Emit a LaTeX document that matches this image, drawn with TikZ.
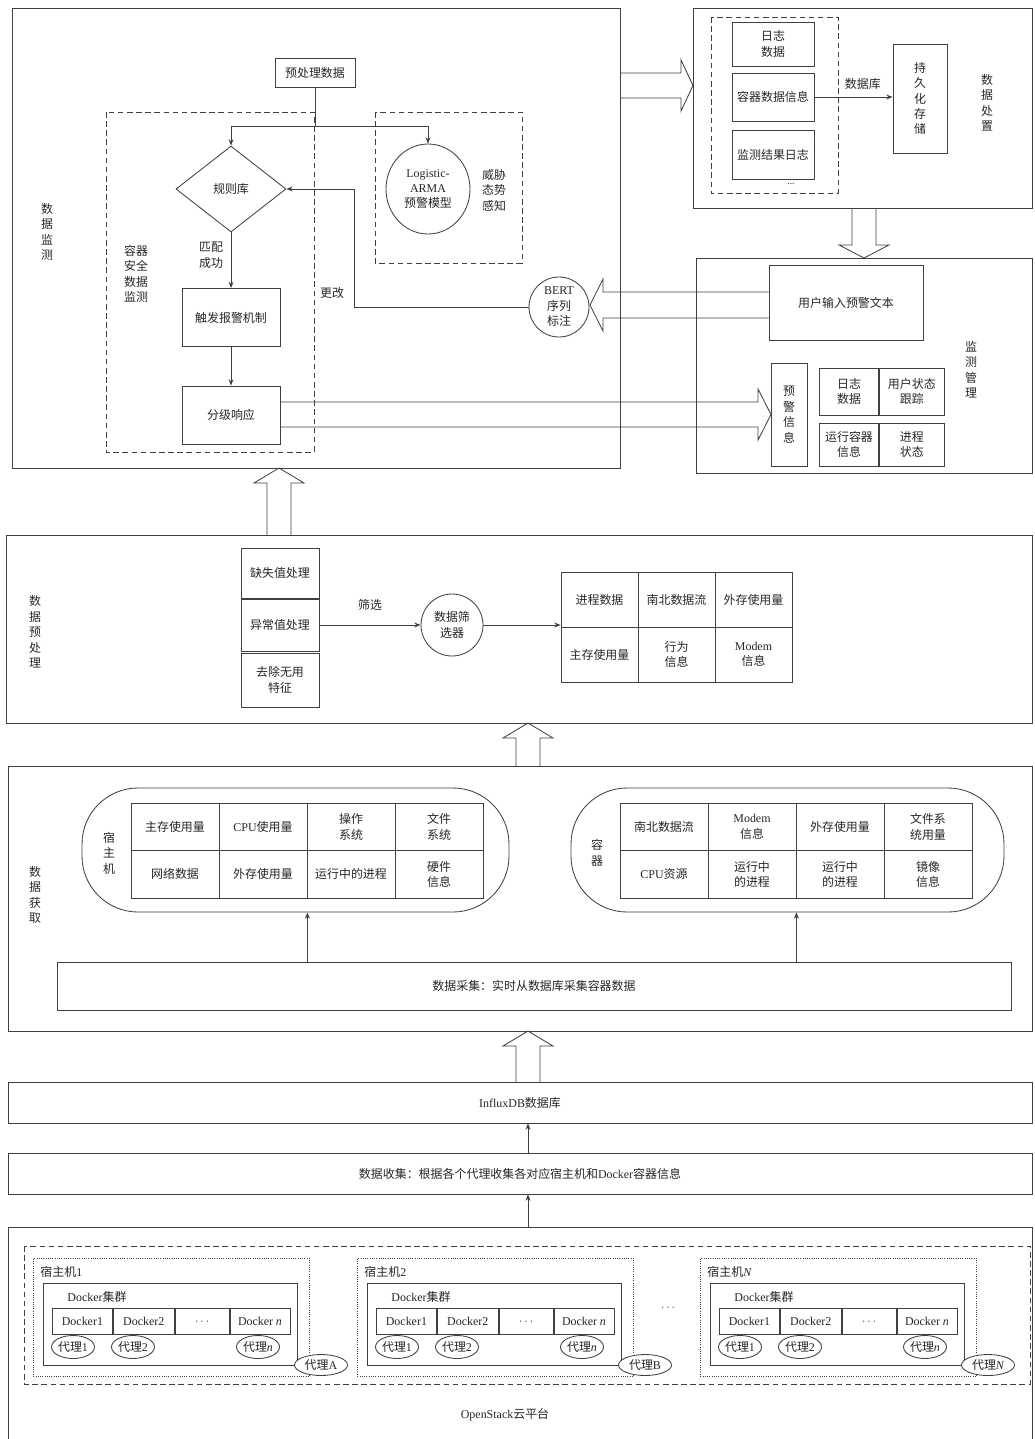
\documentclass[tikz,border=0pt]{standalone}
\usepackage{fontspec}
\setmainfont{Noto Sans CJK SC}
\newfontfamily\lat{Liberation Serif}
\usetikzlibrary{shapes,arrows.meta,positioning,calc}

% hollow block arrows (x, tail, tip)
\newcommand{\hollowup}[3]{\draw (#1-12,#2) -- (#1-12,#3+15) -- (#1-25,#3+15) -- (#1,#3) -- (#1+25,#3+15) -- (#1+12,#3+15) -- (#1+12,#2);}

\begin{document}
\begin{tikzpicture}[x=0.025cm, y=-0.025cm, line width=0.6pt, draw=black!75,
    >={Stealth[length=4.5pt,width=3.5pt]},
    every node/.style={font=\fontsize{8.5}{11}\selectfont, text=black!85, inner sep=0pt, align=center},
    box/.style={draw, rectangle},
    wh/.style 2 args={minimum width=#1*0.025cm, minimum height=#2*0.025cm},
    grp/.style={draw, dash pattern=on 4pt off 2.5pt},
    agent/.style={draw, ellipse, fill=white, minimum width=43*0.025cm, minimum height=23*0.025cm}]
\useasboundingbox (0,0) rectangle (1034,1439);

%% data monitoring
\node[box, wh={608}{460}] (mon) at (316,238) {};
\node at (47,232) {数\\据\\监\\测};
\node[box, wh={80}{29}] (pre) at (315,72.5) {预处理数据};
\draw[grp] (106,112) rectangle (314,452);
\draw[grp] (375,112) rectangle (522,263);
\node[draw, diamond, wh={110}{86}] (rule) at (231,189) {规则库};
\node[draw, ellipse, wh={84}{90}] (arma) at (428,189) {{\lat Logistic-}\\{\lat ARMA}\\预警模型};
\node at (494,190) {威胁\\态势\\感知};
\node at (136,274) {容器\\安全\\数据\\监测};
\node at (211,255) {匹配\\成功};
\node[box, wh={98}{58}] (alarm) at (231,317.5) {触发报警机制};
\node[box, wh={98}{58}] (resp) at (231,415) {分级响应};
\node at (332,293) {更改};
\node[draw, circle, minimum size=60*0.025cm] (bert) at (559,307) {{\lat BERT}\\序列\\标注};

\draw (pre.south) -- (315,126) coordinate (split);
\draw[->] (split) -| (rule.north);
\draw[->] (split) -| (arma.north);
\draw[->] (rule.south) -- (alarm.north);
\draw[->] (alarm) -- (resp);
\draw[->] (bert.west) -- (354,307) |- (rule.east);

%% data disposal
\node[box, wh={339}{200}] (disp) at (862.5,108) {};
\draw[grp] (711,17) rectangle (838,193);
\node[box, wh={82}{44}] (log) at (773,44) {日志\\数据};
\node[box, wh={82}{48}] (cinfo) at (773,97) {容器数据信息};
\node[box, wh={82}{49}] (mlog) at (773,154.5) {监测结果日志};
\node (dots) at (791,184) {\fontsize{7}{7}\selectfont\lat ...};
\node[box, wh={54}{109}] (store) at (920,98.5) {持\\久\\化\\存\\储};
\draw[->] (cinfo.east) -- node[above=5pt, pos=0.62] {数据库} (cinfo.east -| store.west);
\node at (987,103) {数\\据\\处\\置};

%% monitoring management
\node[box, wh={336}{215}] (mgmt) at (864,365.5) {};
\node[box, wh={154}{75}] (utext) at (846,302.5) {用户输入预警文本};
\node[box, wh={36}{103}] (warn) at (789,414.5) {预\\警\\信\\息};
\node[box, wh={59}{47}] (m1) at (849,391.5) {日志\\数据};
\node[box, wh={65}{47}, right=0pt of m1] (m2) {用户状态\\跟踪};
\node[box, wh={59}{43}] (m3) at (849,444.5) {运行容器\\信息};
\node[box, wh={65}{43}, right=0pt of m3] (m4) {进程\\状态};
\node at (971,370) {监\\测\\管\\理};

% block arrows
\draw (620,73) -- (681,73) -- (681,60) -- (693,85.5) -- (681,111) -- (681,98) -- (620,98);
\draw (852,208) -- (852,245) -- (839,245) -- (864,258) -- (889,245) -- (876,245) -- (876,208);
\draw (utext.west |- 0,292) -- (603,292) -- (603,279) -- (590,305) -- (603,331) -- (603,318) -- (utext.west |- 0,318);
\draw (resp.east |- 0,402) -- (758,402) -- (758,389) -- (771,414.5) -- (758,440) -- (758,427) -- (resp.east |- 0,427);
\hollowup{279}{535}{468}
\hollowup{528}{766}{723}
\hollowup{528}{1082}{1031}

%% data preprocessing
\node[box, wh={1026}{188}] (prep) at (519,629) {};
\node at (35,632) {数\\据\\预\\处\\理};
\node[box, wh={78}{50}] (miss) at (280,573) {缺失值处理};
\node[box, wh={78}{52}] (outl) at (280,625) {异常值处理};
\node[box, wh={78}{54}] (feat) at (280,680) {去除无用\\特征};
\node[draw, circle, minimum size=62*0.025cm] (filt) at (452,625) {数据筛\\选器};
\draw[->] (outl.east) -- node[above=10pt] {筛选} (filt.west);
\foreach \t [count=\i] in {进程数据,南北数据流,外存使用量}
  \node[box, wh={77}{55}] (pa\i) at (522.5+77*\i,599.5) {\t};
\foreach \t [count=\i] in {主存使用量,{行为\\信息},{{\lat Modem}\\信息}}
  \node[box, wh={77}{55}] (pb\i) at (522.5+77*\i,654.5) {\t};
\draw[->] (filt.east) -- (filt.east -| pa1.west);

%% data acquisition
\node[box, wh={1024}{265}] (acq) at (520,898.5) {};
\node at (35,895) {数\\据\\获\\取};
\node[draw, rounded corners=1.4cm, wh={427}{124}] (hostgrp) at (295.5,850) {};
\node[draw, rounded corners=1.4cm, wh={433}{124}] (ctrgrp) at (787.5,850) {};
\node at (109,853) {宿\\主\\机};
\node at (597,853) {容\\器};
\foreach \t [count=\i] in {主存使用量,{{\lat CPU}使用量},{操作\\系统},{文件\\系统}}
  \node[box, wh={88}{47.5}] (ha\i) at (87+88*\i,826.75) {\t};
\foreach \t [count=\i] in {网络数据,外存使用量,运行中的进程,{硬件\\信息}}
  \node[box, wh={88}{47.5}] (hb\i) at (87+88*\i,874.25) {\t};
\foreach \t [count=\i] in {南北数据流,{{\lat Modem}\\信息},外存使用量,{文件系\\统用量}}
  \node[box, wh={88}{47.5}] (ca\i) at (576+88*\i,826.75) {\t};
\foreach \t [count=\i] in {{{\lat CPU}资源},{运行中\\的进程},{运行中\\的进程},{镜像\\信息}}
  \node[box, wh={88}{47.5}] (cb\i) at (576+88*\i,874.25) {\t};
\node[box, wh={954}{48}] (coll) at (534,986) {数据采集：实时从数据库采集容器数据};
\draw[->] (coll.north -| hb2.south east) -- (hostgrp.south -| hb2.south east);
\draw[->] (coll.north -| cb2.south east) -- (ctrgrp.south -| cb2.south east);

%% database and collection
\node[box, wh={1024}{41}] (influx) at (520,1102.5) {{\lat InfluxDB}数据库};
\node[box, wh={1024}{41}] (gather) at (520,1173.5) {数据收集：根据各个代理收集各对应宿主机和{\lat Docker}容器信息};
\node[box, wh={1024}{230}] (cloud) at (520,1342) {};
\draw[->] ([xshift=0.2cm]gather.north) -- ([xshift=0.2cm]influx.south);
\draw[->] ([xshift=0.2cm]cloud.north) -- ([xshift=0.2cm]gather.south);

%% OpenStack hosts
\draw[grp] (24,1246) rectangle (1030,1384);
\foreach \ox/\n/\a [count=\i] in {33/1/A,357/2/B,700/{\itshape N}/{\itshape N}} {
  \node[draw, densely dotted, wh={276}{118}, anchor=north west] (h\i) at (\ox,1258) {};
  \node[anchor=west] at (\ox+7,1272) {宿主机{\lat\n}};
  \node[box, wh={254}{82}, anchor=north west] (dc\i) at (\ox+10,1283) {};
  \node[anchor=west] at (\ox+34,1297) {{\lat Docker}集群};
  \node[box, wh={60}{26}, anchor=north west] (d\i-a) at (\ox+19,1308) {\lat Docker1};
  \node[box, wh={61}{26}, right=0pt of d\i-a] (d\i-b) {\lat Docker2};
  \node[box, wh={54}{26}, right=0pt of d\i-b] (d\i-c) {$\cdots$};
  \node[box, wh={60}{26}, right=0pt of d\i-c] (d\i-d) {{\lat Docker} {\lat\itshape n}};
  \node[agent] (p\i-a) at (\ox+40,1347) {代理{\lat 1}};
  \node[agent] (p\i-b) at (\ox+100,1347) {代理{\lat 2}};
  \node[agent] (p\i-c) at (\ox+225,1347) {代理{\lat\itshape n}};
  \node[agent, minimum width=53*0.025cm, minimum height=21*0.025cm] (ag\i) at (\ox+288,1365) {代理{\lat\a}};
}
\node (hdots) at (668,1308) {$\cdots$};
\node (os) at (505,1415) {{\lat OpenStack}云平台};
\end{tikzpicture}
\end{document}
